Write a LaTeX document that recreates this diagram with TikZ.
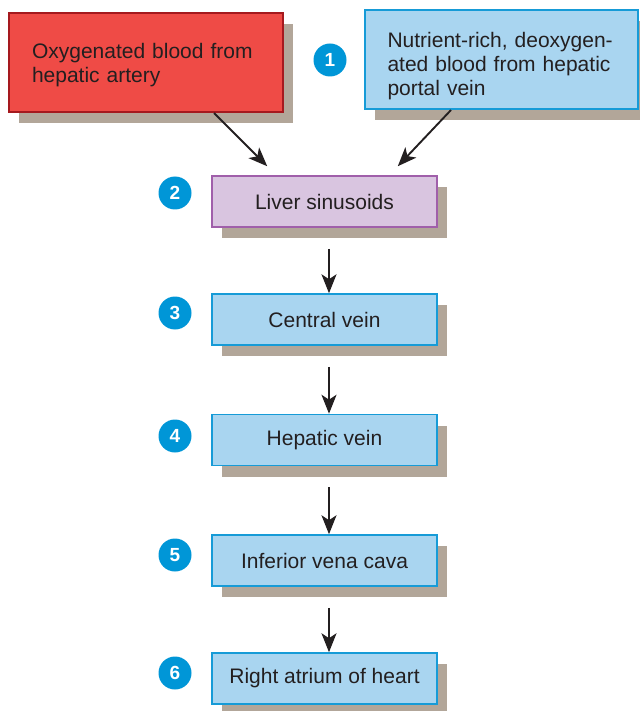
\documentclass[tikz,border=0pt]{standalone}
\usepackage{fontspec}
\setmainfont{Liberation Sans}
\usepackage{tikz}
\usetikzlibrary{arrows.meta, shadows}
\definecolor{ArteryRed}{RGB}{239, 75, 70}
\definecolor{ArteryDark}{RGB}{165, 25, 30}
\definecolor{VeinFill}{RGB}{169, 213, 240}
\definecolor{VeinBlue}{RGB}{22, 155, 215}
\definecolor{SinusFill}{RGB}{217, 197, 224}
\definecolor{SinusPurple}{RGB}{160, 95, 170}
\definecolor{ShadowTan}{RGB}{178, 166, 153}
\definecolor{NumBlue}{RGB}{0, 150, 215}
\definecolor{InkDark}{RGB}{35, 31, 32}

\begin{document}
\begin{tikzpicture}[x=1pt, y=-1pt,
		box/.style={draw=VeinBlue, line width=1.5pt, fill=VeinFill, minimum width=225pt, minimum height=51pt, inner sep=0pt, text=InkDark, font=\fontsize{21}{24}\selectfont, drop shadow={shadow xshift=10pt, shadow yshift=-11pt, fill=ShadowTan, opacity=1}},
		num/.style={circle, fill=NumBlue, text=white, minimum size=33pt, inner sep=0pt, font=\fontsize{19}{19}\selectfont\bfseries},
		arr/.style={-{Stealth[length=19pt, width=15pt, inset=5pt]}, line width=1.9pt, draw=InkDark}]
	\useasboundingbox (0,0) rectangle (639,711);
	% two blood supplies
	\node[box, draw=ArteryDark, fill=ArteryRed, line width=2.2pt, minimum width=274pt, minimum height=99pt, text width=228pt, align=left] (artery) at (146,62.5) {\rule{0pt}{20pt}Oxygenated blood from\\hepatic artery};
	\node[box, line width=2pt, minimum width=273pt, minimum height=99pt, text width=228pt, align=left] (portal) at (501.5,59.5) {\rule{0pt}{28pt}Nutrient-rich, deoxygen-\\ated blood from hepatic\\portal vein};
	% path through the liver
	\node[box, draw=SinusPurple, fill=SinusFill] (liver) at (324.5,201.5) {Liver sinusoids};
	\foreach \name/\y/\txt in {central/319.5/Central vein, hepatic/440/Hepatic vein, ivc/560.5/Inferior vena cava, atrium/678.5/Right atrium of heart}{
		\node[box] (\name) at (324.5,\y) {\txt};
	}
	\node[num] (n1) at (330,60) {1};
	\foreach \n/\y in {2/193, 3/313, 4/436, 5/555, 6/673}{\node[num] (n\n) at (175,\y) {\n};}
	\draw[arr] ([xshift=-70pt]artery.south east) -- ([xshift=56pt, yshift=9pt]liver.north west);
	\draw[arr] ([xshift=87pt]portal.south west) -- ([xshift=-40pt, yshift=9pt]liver.north east);
	\foreach \a/\b in {liver/central, central/hepatic, hepatic/ivc, ivc/atrium}{\draw[arr, shorten <=21pt] ([xshift=4.5pt]\a.south) -- ([xshift=4.5pt]\b.north);}
\end{tikzpicture}
\end{document}
